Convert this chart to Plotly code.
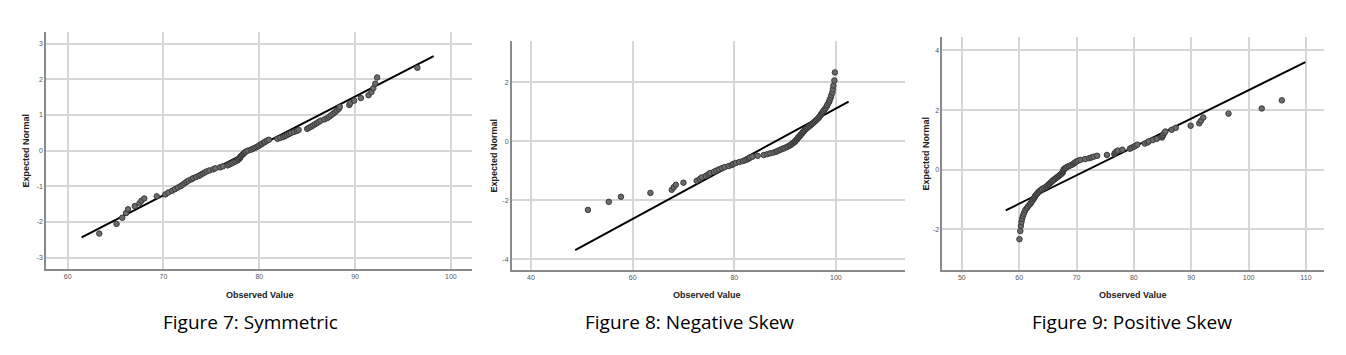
import plotly.graph_objects as go

W, H = 1346, 355

# Expected normal scores (read from the vertical positions of the points; same for all panels, n = 99)
z_scores = [
    -2.326, -2.054, -1.881, -1.751, -1.645, -1.555, -1.476, -1.405, -1.341, -1.282,
    -1.227, -1.175, -1.126, -1.080, -1.036, -0.994, -0.954, -0.915, -0.878, -0.842,
    -0.806, -0.772, -0.739, -0.706, -0.674, -0.643, -0.613, -0.583, -0.553, -0.524,
    -0.496, -0.468, -0.440, -0.412, -0.385, -0.358, -0.332, -0.305, -0.279, -0.253,
    -0.228, -0.202, -0.176, -0.151, -0.126, -0.100, -0.075, -0.050, -0.025, 0.000,
    0.025, 0.050, 0.075, 0.100, 0.126, 0.151, 0.176, 0.202, 0.228, 0.253,
    0.279, 0.305, 0.332, 0.358, 0.385, 0.412, 0.440, 0.468, 0.496, 0.524,
    0.553, 0.583, 0.613, 0.643, 0.674, 0.706, 0.739, 0.772, 0.806, 0.842,
    0.878, 0.915, 0.954, 0.994, 1.036, 1.080, 1.126, 1.175, 1.227, 1.282,
    1.341, 1.405, 1.476, 1.555, 1.645, 1.751, 1.881, 2.054, 2.326,
]

# Observed values, Figure 7 (symmetric)
obs_sym = [
    63.3, 65.1, 65.7, 66.1, 66.3, 67.0, 67.5, 67.7, 68.0, 69.3,
    70.2, 70.5, 70.9, 71.2, 71.5, 71.8, 72.0, 72.2, 72.4, 72.6,
    72.9, 73.1, 73.4, 73.7, 73.9, 74.1, 74.3, 74.5, 74.8, 75.2,
    75.4, 75.9, 76.2, 76.7, 76.9, 77.1, 77.3, 77.5, 77.7, 77.8,
    77.9, 78.0, 78.0, 78.1, 78.2, 78.3, 78.4, 78.5, 78.6, 78.8,
    79.1, 79.3, 79.5, 79.7, 79.9, 80.0, 80.2, 80.3, 80.5, 80.6,
    80.8, 81.0, 81.9, 82.2, 82.5, 82.7, 82.9, 83.1, 83.3, 83.6,
    83.9, 84.1, 85.0, 85.2, 85.4, 85.6, 85.8, 86.0, 86.2, 86.4,
    86.8, 87.1, 87.3, 87.5, 87.7, 87.9, 88.1, 88.3, 88.4, 89.4,
    89.5, 89.9, 90.6, 91.4, 91.7, 91.9, 92.1, 92.3, 96.5,
]

# Observed values, Figure 8 (negative skew)
obs_neg = [
    51.2, 55.3, 57.7, 63.5, 67.7, 68.1, 68.5, 70.0, 72.6, 73.2,
    73.6, 74.4, 74.9, 75.2, 76.0, 76.5, 77.0, 77.6, 78.1, 78.9,
    79.5, 79.8, 80.3, 81.0, 81.7, 82.2, 82.6, 82.9, 83.1, 83.6,
    84.6, 85.8, 86.5, 87.1, 87.7, 88.2, 88.5, 88.9, 89.2, 89.6,
    89.9, 90.3, 90.6, 90.9, 91.1, 91.3, 91.5, 91.7, 91.9, 92.0,
    92.1, 92.3, 92.4, 92.5, 92.6, 92.7, 92.9, 93.0, 93.1, 93.3,
    93.4, 93.5, 93.7, 93.8, 93.9, 94.1, 94.3, 94.5, 94.7, 94.9,
    95.1, 95.3, 95.5, 95.7, 95.9, 96.1, 96.3, 96.5, 96.7, 96.8,
    97.0, 97.1, 97.3, 97.4, 97.6, 97.8, 98.0, 98.2, 98.3, 98.5,
    98.7, 98.8, 99.0, 99.1, 99.3, 99.4, 99.5, 99.7, 99.8,
]

# Observed values, Figure 9 (positive skew)
obs_pos = [
    60.05, 60.2, 60.3, 60.4, 60.5, 60.65, 60.8, 60.95, 61.1, 61.35,
    61.55, 61.8, 62.0, 62.15, 62.3, 62.45, 62.6, 62.7, 62.8, 62.95,
    63.1, 63.25, 63.4, 63.6, 63.8, 64.0, 64.3, 64.6, 64.8, 65.0,
    65.15, 65.3, 65.45, 65.6, 65.75, 65.9, 66.05, 66.25, 66.45, 66.6,
    66.8, 66.95, 67.1, 67.3, 67.45, 67.55, 67.6, 67.65, 67.7, 67.75,
    67.85, 68.0, 68.2, 68.4, 68.7, 69.0, 69.3, 69.5, 69.65, 69.8,
    70.0, 70.3, 70.7, 71.5, 72.2, 72.6, 73.0, 73.6, 75.3, 76.6,
    76.7, 76.8, 77.0, 77.2, 78.0, 79.3, 79.6, 80.0, 80.3, 80.6,
    81.9, 82.4, 82.6, 83.3, 84.0, 84.9, 85.0, 85.1, 85.3, 85.5,
    86.6, 87.3, 89.9, 91.4, 91.7, 92.1, 96.5, 102.3, 105.8,
]

# Reference (expected normal) lines: end points
line_sym_x = [61.46, 98.2]
line_sym_y = [-2.43, 2.65]
line_neg_x = [48.7, 102.5]
line_neg_y = [-3.69, 1.34]
line_pos_x = [57.66, 109.9]
line_pos_y = [-1.36, 3.61]

# Tick values
xt_sym = [60, 70, 80, 90, 100]
yt_sym = [-3, -2, -1, 0, 1, 2, 3]
xt_neg = [40, 60, 80, 100]
yt_neg = [-4, -2, 0, 2]
xt_pos = [50, 60, 70, 80, 90, 100, 110]
yt_pos = [-2, 0, 2, 4]

captions = ["Figure 7: Symmetric", "Figure 8: Negative Skew", "Figure 9: Positive Skew"]

panels = [
    dict(obs=obs_sym, lx=line_sym_x, ly=line_sym_y, xt=xt_sym, yt=yt_sym,
         xr=[57.74, 102.2], yr=[-3.32, 3.33], px=(46, 472), py=(32, 269),
         ytitle_x=25, xtitle_x=260, cap_x=250),
    dict(obs=obs_neg, lx=line_neg_x, ly=line_neg_y, xt=xt_neg, yt=yt_neg,
         xr=[36.2, 113.6], yr=[-4.36, 3.39], px=(511.7, 905), py=(41, 270),
         ytitle_x=493, xtitle_x=707, cap_x=690),
    dict(obs=obs_pos, lx=line_pos_x, ly=line_pos_y, xt=xt_pos, yt=yt_pos,
         xr=[46.6, 113.2], yr=[-3.36, 4.45], px=(942.3, 1324.3), py=(37, 270),
         ytitle_x=925, xtitle_x=1133, cap_x=1132),
]

fig = go.Figure()
annotations = []
layout = {}
tick_font = dict(family="Liberation Sans, Arial, sans-serif", size=7, color="#555555")
title_font = dict(family="Liberation Sans, Arial, sans-serif", size=9, color="#222222")

for i, p in enumerate(panels):
    n = "" if i == 0 else str(i + 1)
    xa, ya = "x" + n, "y" + n
    fig.add_trace(go.Scatter(
        x=p["lx"], y=p["ly"], mode="lines", xaxis=xa, yaxis=ya,
        line=dict(color="#000000", width=2), showlegend=False, hoverinfo="skip"))
    fig.add_trace(go.Scatter(
        x=p["obs"], y=z_scores, mode="markers", xaxis=xa, yaxis=ya,
        marker=dict(size=5.5, color="#6b6b6b", line=dict(color="#3a3a3a", width=1)),
        showlegend=False))
    x0, x1 = p["px"]
    y0, y1 = p["py"]
    layout["xaxis" + n] = dict(
        domain=[x0 / W, x1 / W], range=p["xr"], anchor=ya,
        tickvals=p["xt"], ticktext=[str(v) for v in p["xt"]],
        showgrid=True, gridcolor="#d6d6d6", gridwidth=1.5,
        showline=True, linecolor="#8a8a8a", linewidth=1.5,
        zeroline=False, ticks="", tickfont=tick_font, fixedrange=True)
    layout["yaxis" + n] = dict(
        domain=[1 - y1 / H, 1 - y0 / H], range=p["yr"], anchor=xa,
        tickvals=p["yt"], ticktext=[str(v) for v in p["yt"]],
        showgrid=True, gridcolor="#d6d6d6", gridwidth=1.5,
        showline=True, linecolor="#8a8a8a", linewidth=1.5,
        zeroline=False, ticks="", tickfont=tick_font, fixedrange=True)
    # Axis titles
    annotations.append(dict(
        text="<b>Expected Normal</b>", xref="paper", yref="paper",
        x=p["ytitle_x"] / W, y=1 - ((y0 + y1) / 2) / H, textangle=-90,
        showarrow=False, font=title_font, xanchor="center", yanchor="middle"))
    annotations.append(dict(
        text="<b>Observed Value</b>", xref="paper", yref="paper",
        x=p["xtitle_x"] / W, y=1 - 294.5 / H,
        showarrow=False, font=title_font, xanchor="center", yanchor="middle"))
    # Caption
    annotations.append(dict(
        text=captions[i], xref="paper", yref="paper",
        x=p["cap_x"] / W, y=1 - 322 / H,
        showarrow=False, xanchor="center", yanchor="middle",
        font=dict(family="Liberation Sans Narrow, Open Sans, sans-serif", size=19, color="#000000")))

fig.update_layout(
    width=W, height=H, margin=dict(l=0, r=0, t=0, b=0),
    paper_bgcolor="white", plot_bgcolor="white",
    annotations=annotations, **layout)

fig.write_html("out.html", config={"displayModeBar": False},
               post_script="document.body.style.margin='0';document.body.style.overflow='hidden';")
